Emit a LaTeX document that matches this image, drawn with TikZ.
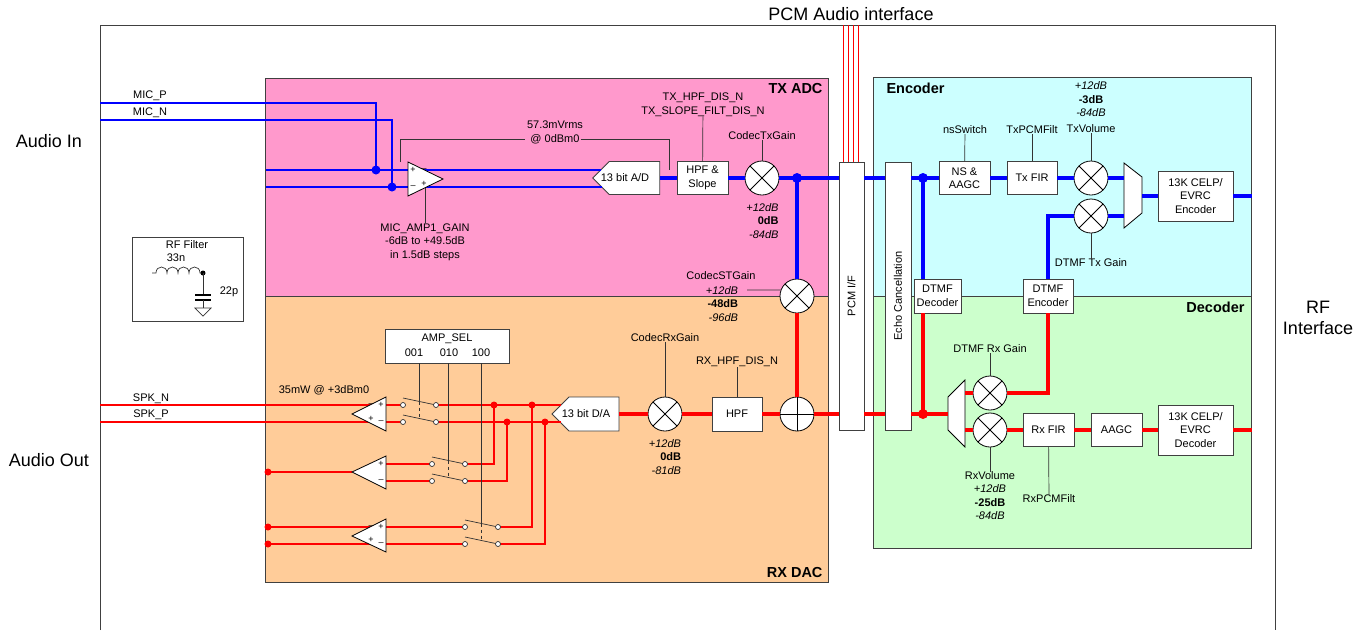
\documentclass[tikz,border=0pt]{standalone}
\usepackage{fontspec}
\setmainfont{Liberation Sans}
\usetikzlibrary{shapes.symbols,calc}
\definecolor{txpink}{HTML}{FF99CC}
\definecolor{rxorange}{HTML}{FFCC99}
\definecolor{enccyan}{HTML}{CCFFFF}
\definecolor{decgreen}{HTML}{CCFFCC}
\definecolor{busblue}{HTML}{0000FF}
\definecolor{busred}{HTML}{FF0000}
\definecolor{edgegray}{HTML}{404040}
\newcommand\lblfont{\fontsize{11}{13.5}\selectfont}
\newcommand\lblside{\fontsize{18}{21}\selectfont}
\newcommand\lblhead{\fontsize{14.5}{17}\selectfont\bfseries}
\newcommand\lblsign{\fontsize{9}{9}\selectfont}
\newcommand\dbstack[2]{\textit{+12dB}\\\textbf{#1}\\\textit{#2}}
\tikzset{
  region/.style={draw=edgegray, line width=1pt},
  block/.style={draw=edgegray, fill=white, line width=0.8pt, align=center,
                font=\lblfont, inner sep=1pt},
  mixer/.style={circle, draw=black, fill=white, line width=0.8pt,
                minimum size=34pt, inner sep=0pt,
                path picture={\draw[line width=0.8pt]
                  (path picture bounding box.north west) -- (path picture bounding box.south east)
                  (path picture bounding box.north east) -- (path picture bounding box.south west);}},
  adder/.style={circle, draw=black, fill=white, line width=0.8pt,
                minimum size=34pt, inner sep=0pt,
                path picture={\draw[line width=1pt]
                  (path picture bounding box.north) -- (path picture bounding box.south)
                  (path picture bounding box.west) -- (path picture bounding box.east);}},
  conv/.style={signal, signal to=west, draw=edgegray, fill=white, line width=0.8pt,
               font=\lblfont, minimum width=67pt, minimum height=33pt, inner sep=0pt},
  txbus/.style={busblue, line width=4pt},
  rxbus/.style={busred, line width=4pt},
  txwire/.style={busblue, line width=1.2pt},
  rxwire/.style={busred, line width=1.2pt},
  tick/.style={black!80, line width=0.7pt},
  amp/.style={draw=black, fill=white, line width=0.8pt},
  note/.style={font=\lblfont, inner sep=0pt, align=center},
  dbnote/.style={note, align=right},
  sign/.style={font=\lblsign, inner sep=0pt},
}
\begin{document}
\begin{tikzpicture}[x=1pt, y=-1pt]
\useasboundingbox (0,0) rectangle (1366,630);

% outer frame and coloured areas
\draw[region] (100,630) -- (100,25) -- (1275,25) -- (1275,630);
\draw[region, fill=txpink] (265,78) rectangle (828,296);
\draw[region, fill=rxorange] (265,296) rectangle (828,582);
\draw[region, fill=enccyan] (873,77) rectangle (1251,296);
\draw[region, fill=decgreen] (873,296) rectangle (1251,548);
\node[font=\lblhead, anchor=base east] (txadc) at (826,93) {TX ADC};
\node[font=\lblhead, anchor=base east] (rxdac) at (826,577) {RX DAC};
\node[font=\lblhead, anchor=base west] (enc) at (883,93) {Encoder};
\node[font=\lblhead, anchor=base east] (dec) at (1248,312) {Decoder};

\node[font=\lblside] (pcmaudio) at (851,14) {PCM Audio interface};
\node[font=\lblside] (audioin) at (49,141) {Audio In};
\node[font=\lblside] (audioout) at (49,460) {Audio Out};
\node[font=\lblside, align=center] (rfif) at (1318,318) {RF\\Interface};

% PCM interface and echo canceller
\node[block, minimum width=25pt, minimum height=268pt] (pcmif) at (851.5,296) {};
\node[note, rotate=90] (pcmiftxt) at (pcmif) {PCM I/F};
\node[block, minimum width=26pt, minimum height=268pt] (echo) at (898,296) {};
\node[note, rotate=90] (echotxt) at (echo) {Echo Cancellation};
\foreach \x in {843,848,853,858}
  \draw[busred, line width=0.8pt] (\x,25) -- (\x,162);

% TX ADC
\node[conv] (ad) at (634.5,178) {};
\node[note] (adtxt) at (625,178) {13 bit A/D};
\node[block, minimum width=51pt, minimum height=33pt] (hpfs) at (702.5,178) {HPF \&\\Slope};
\node[mixer] (txg) at (762,178) {};
\node[mixer] (stg) at (797,296) {};
\coordinate (txdot1) at (797,178);

\coordinate (micp) at (100,103);
\coordinate (micn) at (100,120);
\coordinate (jp) at (376,170);
\coordinate (jn) at (392,187);
\coordinate (inp) at (266,170);
\coordinate (inn) at (266,187);
\coordinate (adinp) at (601,170);
\coordinate (adinn) at (602,187);
\draw[txwire] (micp) -| (jp);
\draw[txwire] (micn) -| (jn);
\draw[txwire] (inp) -- (adinp);
\draw[txwire] (inn) -- (adinn);
\fill[busblue] (jp) circle (4.5pt) (jn) circle (4.5pt);
\coordinate (mvstart) at (400,162);
\coordinate (ampbot) at (425,188);
\draw[amp] (408,162) -- (443,179) -- (408,196) -- cycle;
\node[note] (micplbl) at (150,96) {MIC\_P};
\node[note] (micnlbl) at (150,113) {MIC\_N};

\node[note] (ampgain) at (425,242) {MIC\_AMP1\_GAIN\\-6dB to +49.5dB\\in 1.5dB steps};
\draw[tick] (ampbot) -- (ampgain);
\node[note] (mvrms) at (555,125) {57.3mVrms};
\node[note] (dbm0) at (555,139) {@ 0dBm0};
\coordinate (adtick) at (669,170);
\draw[tick] (mvstart) |- ([xshift=-5pt]dbm0.west);
\draw[tick] ([xshift=1pt]dbm0.east) -| (adtick);

\node[note] (hpfslbl) at (703,104.5) {TX\_HPF\_DIS\_N\\TX\_SLOPE\_FILT\_DIS\_N};
\draw[tick] (hpfslbl) -- (hpfs);
\node[note] (txglbl) at (762,136) {CodecTxGain};
\draw[tick] (txglbl) -- (txg);
\node[dbnote] (txgdb) at (762.5,221) {\dbstack{0dB}{-84dB}};
\node[note] (stglbl) at (721,276) {CodecSTGain};
\node[dbnote] (stgdb) at (722,304) {\dbstack{-48dB}{-96dB}};
\coordinate (stgtick) at (747,290);
\draw[tick] (stgtick) -- (stg.160);

\draw[txbus] (ad) -- (hpfs);
\draw[txbus] (hpfs) -- (txg);
\draw[txbus] (txg) -- (pcmif.west |- txg);
\draw[txbus] (txdot1) -- (stg);
\fill[busblue] (txdot1) circle (5pt);
\draw[txbus] (pcmif.east |- txg) -- (echo.west |- txg);

% RX DAC
\node[conv, minimum height=34pt] (da) at (594,414) {};
\node[note] (datxt) at (586,414) {13 bit D/A};
\node[mixer] (rxg) at (665,414) {};
\node[block, minimum width=50pt, minimum height=34pt] (hpf) at (737,414) {HPF};
\node[adder] (sum) at (797,414) {};
\draw[rxbus] (stg) -- (sum);
\draw[rxbus] (pcmif.west |- sum) -- (sum) -- (hpf) -- (rxg) -- (da);
\node[note] (rxglbl) at (665,338) {CodecRxGain};
\draw[tick] (rxglbl) -- (rxg);
\node[dbnote] (rxgdb) at (665,457) {\dbstack{0dB}{-81dB}};
\node[note] (hpflbl) at (737,362) {RX\_HPF\_DIS\_N};
\draw[tick] (hpflbl) -- (hpf);

% speaker amplifiers and AMP_SEL switches
\node[block, minimum width=124pt, minimum height=34pt] (ampsel) at (447,346) {};
\node[note] (ampseltxt) at (447,339) {AMP\_SEL};
\node[note] (sel1) at (414,353) {001};
\node[note] (sel2) at (449,353) {010};
\node[note] (sel3) at (481,353) {100};
\node[note] (spkpow) at (324,390) {35mW @ +3dBm0};
\node[note] (spkn) at (151,399) {SPK\_N};
\node[note] (spkp) at (151,415) {SPK\_P};

\foreach \xl/\ya/\yb/\n in {403/405/422/1,432/464/481/2,465/527/544/3}{
  \coordinate (sw\n-a) at (\xl,\ya);
  \coordinate (sw\n-b) at (\xl+33,\ya);
  \coordinate (sw\n-c) at (\xl,\yb);
  \coordinate (sw\n-d) at (\xl+33,\yb);
  \coordinate (sw\n-m) at (\xl+16.5,\ya-3.5);
}
\coordinate (spknL) at (100,405);
\coordinate (spkpL) at (100,422);
\coordinate (dainp) at (561,405);
\coordinate (dainn) at (561,422);
\coordinate (j1) at (494,405);
\coordinate (j2) at (507,422);
\coordinate (j3) at (532,405);
\coordinate (j4) at (545,422);
\coordinate (a2dot) at (268,472);
\coordinate (a3dotp) at (268,527);
\coordinate (a3dotn) at (268,544);
\coordinate (a1t) at (386,397);
\coordinate (a1o) at (352,414);
\coordinate (a1b) at (386,431);
\coordinate (a2t) at (386,456);
\coordinate (a2o) at (352,472);
\coordinate (a2b) at (386,489);
\coordinate (a3t) at (386,519);
\coordinate (a3o) at (352,536);
\coordinate (a3b) at (386,552);

\draw[rxwire] (spknL) -- (sw1-a);
\draw[rxwire] (spkpL) -- (sw1-c);
\draw[rxwire] (sw1-b) -- (dainp);
\draw[rxwire] (sw1-d) -- (dainn);
\draw[rxwire] (j1) |- (sw2-b);
\draw[rxwire] (j2) |- (sw2-d);
\draw[rxwire] (j3) |- (sw3-b);
\draw[rxwire] (j4) |- (sw3-d);
\draw[rxwire] (sw2-a -| a2t) -- (sw2-a);
\draw[rxwire] (sw2-c -| a2t) -- (sw2-c);
\draw[rxwire] (a2dot) -- (a2o);
\draw[rxwire] (a3dotp) -- (sw3-a);
\draw[rxwire] (a3dotn) -- (sw3-c);
\foreach \p in {j1,j2,j3,j4,a2dot,a3dotp,a3dotn}
  \fill[busred] (\p) circle (3.5pt);
\foreach \n in {1,2,3}
  \draw[amp] (a\n t) -- (a\n o) -- (a\n b) -- cycle;

\foreach \n in {1,2,3}{
  \draw[tick] (sw\n-m |- ampsel.south) -- (sw\n-m);
  \draw[tick] ($(sw\n-a)+(0,-7)$) -- (sw\n-b);
  \draw[tick] ($(sw\n-c)+(0,-7)$) -- (sw\n-d);
  \draw[tick, dashed, line width=1pt] (sw\n-m) -- ++(0,17);
  \draw[tick, fill=white] (sw\n-a) circle (2.5pt) (sw\n-b) circle (2.5pt)
                          (sw\n-c) circle (2.5pt) (sw\n-d) circle (2.5pt);
}

\foreach \x/\y/\s [count=\i] in {413/170/+,424/170/\textendash,413/187/\textendash,424/184/+,
    371/405/\textendash,381/405/+,371/419/+,381/422/\textendash,
    381/464/+,381/481/\textendash,
    371/527/\textendash,381/527/+,371/540/+,381/544/\textendash}
  \node[sign] (sign\i) at (\x,\y) {\s};

% RF filter
\node[block, minimum width=111pt, minimum height=84pt] (rffilter) at (187.5,279) {};
\node[note] (rftitle) at (187,245) {RF Filter};
\node[note] (lval) at (176,258) {33n};
\node[note] (cval) at (229,292) {22p};
\coordinate (lstart) at (152,273);
\coordinate (lend) at (203,273);
\draw[tick] (lstart) -- (156,273)
  foreach \x in {156,167,178,189} { .. controls (\x,265) and (\x+11,265) .. (\x+11,273) }
  -- (lend);
\fill[black] (lend) circle (2.5pt);
\draw[tick] (lend) -- (203,295);
\draw[black, line width=1.2pt] (195,295) -- (211,295) (195,300) -- (211,300);
\draw[tick] (203,300) -- (203,308);
\draw[tick] (195,308) -- (211,308) -- (203,316) -- cycle;

% Encoder
\coordinate (txdot2) at (923,178);
\node[block, minimum width=51pt, minimum height=33pt] (ns) at (964.5,178) {NS \&\\AAGC};
\node[block, minimum width=50pt, minimum height=33pt] (txfir) at (1032,178) {Tx FIR};
\node[mixer] (txvol) at (1091,178) {};
\node[mixer] (dtmftx) at (1091,216) {};
\coordinate (muxtl) at (1124,163);
\coordinate (muxtr) at (1142,177);
\coordinate (muxbr) at (1142,213);
\coordinate (muxbl) at (1124,228);
\draw[amp] (muxtl) -- (muxtr) -- (muxbr) -- (muxbl) -- cycle;
\coordinate (txmuxout) at (1142,196);
\node[block, minimum width=75pt, minimum height=50pt] (celpenc) at (1195.5,196) {13K CELP/\\EVRC\\Encoder};
\coordinate (rfout) at (1252,196);
\node[block, minimum width=47pt, minimum height=34pt] (dtmfdec) at (937.5,296) {DTMF\\Decoder};
\node[block, minimum width=50pt, minimum height=34pt] (dtmfenc) at (1048,296) {DTMF\\Encoder};

\draw[txbus] (echo.east |- txg) -- (ns);
\draw[txbus] (ns) -- (txfir);
\draw[txbus] (txfir) -- (txvol);
\draw[txbus] (txvol) -- (txvol -| muxtl);
\draw[txbus] (dtmftx) -- (dtmftx -| muxtl);
\draw[txbus] (dtmfenc.north) |- (dtmftx);
\draw[txbus] (txmuxout) -- (celpenc);
\draw[txbus] (celpenc) -- (rfout);
\draw[txbus] (txdot2) -- (txdot2 |- dtmfdec.north);
\fill[busblue] (txdot2) circle (5pt);

\node[note] (nslbl) at (965,130) {nsSwitch};
\draw[tick] (nslbl) -- (ns);
\node[note] (txfirlbl) at (1032,130) {TxPCMFilt};
\draw[tick] (txfirlbl) -- (txfir);
\node[note] (txvollbl) at (1091,129) {TxVolume};
\draw[tick] (txvollbl) -- (txvol);
\node[note] (txvoldb) at (1091,99.5) {\dbstack{-3dB}{-84dB}};
\node[note] (dtmftxlbl) at (1091,263) {DTMF Tx Gain};
\draw[tick] (dtmftxlbl) -- (dtmftx);

% Decoder
\coordinate (rxdot) at (923,414);
\coordinate (rmuxtl) at (948,397);
\coordinate (rmuxtr) at (965,380);
\coordinate (rmuxbr) at (965,447);
\coordinate (rmuxbl) at (948,430);
\draw[amp] (rmuxtl) -- (rmuxtr) -- (rmuxbr) -- (rmuxbl) -- cycle;
\node[mixer] (dtmfrx) at (990,393) {};
\node[mixer] (rxvol) at (990,430) {};
\node[block, minimum width=51pt, minimum height=33pt] (rxfir) at (1048.5,430) {Rx FIR};
\node[block, minimum width=51pt, minimum height=33pt] (aagc) at (1116.5,430) {AAGC};
\node[block, minimum width=75pt, minimum height=50pt] (celpdec) at (1195.5,430) {13K CELP/\\EVRC\\Decoder};
\coordinate (rfin) at (1252,430);

\draw[rxbus] (rfin) -- (celpdec) -- (aagc) -- (rxfir) -- (rxvol);
\draw[rxbus] (rxvol) -- (rxvol -| rmuxtr);
\draw[rxbus] (dtmfrx) -- (dtmfrx -| rmuxtr);
\draw[rxbus] (dtmfenc.south) |- (dtmfrx);
\draw[rxbus] (rxdot |- dtmfdec.south) -- (rxdot);
\draw[rxbus] (rmuxtl |- rxdot) -- (rxdot) -- (echo.east |- rxdot);
\draw[rxbus] (echo.west |- rxdot) -- (pcmif.east |- rxdot);
\fill[busred] (rxdot) circle (5pt);

\node[note] (dtmfrxlbl) at (990,349) {DTMF Rx Gain};
\draw[tick] (dtmfrxlbl) -- (dtmfrx);
\node[note] (rxvollbl) at (990,476) {RxVolume};
\draw[tick] (rxvollbl) -- (rxvol);
\node[note] (rxvoldb) at (990,502.5) {\dbstack{-25dB}{-84dB}};
\node[note] (rxfirlbl) at (1049,499) {RxPCMFilt};
\draw[tick] (rxfirlbl) -- (rxfir);
\end{tikzpicture}
\end{document}
